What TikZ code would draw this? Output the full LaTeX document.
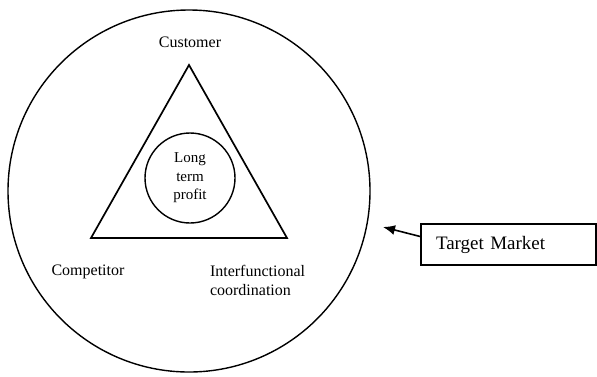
\documentclass[tikz,border=0pt]{standalone}
\usepackage{fontspec}
\setmainfont{Liberation Serif}
\usetikzlibrary{positioning,arrows.meta}

\begin{document}
\begin{tikzpicture}[x=1pt, y=-1pt, line width=1.4pt,
    label/.style={font=\fontsize{16}{19}\selectfont, align=left},
    boxed/.style={draw, line width=1.6pt, minimum width=175pt, minimum height=41pt,
      text width=145pt, inner xsep=15pt, align=left, font=\fontsize{19}{22}\selectfont}]
                \useasboundingbox (0,0) rectangle (597,376);

                % Outer circle (Target market)
                \draw (189,191) circle [radius=181pt];

                % Triangle
                \coordinate (apex) at (189,65);
                \coordinate (left) at (91,238);
                \coordinate (right) at (287,238);
                \draw[line width=1.7pt] (apex) -- (left) -- (right) -- cycle;

                % Inner circle
                \node[circle, draw, minimum size=90pt, inner sep=0pt, align=center,
                  font=\fontsize{15}{18.5}\selectfont] (profit) at (190,178) {Long\\term\\profit};

                % Corner labels
                \node[label] (customer) at (190,42) {Customer};
                \node[label] (competitor) at (88,272) {Competitor};
                \node[label, anchor=north west] (coord) at (206,261) {Interfunctional\\coordination};

                % Target market box and arrow
                \node[boxed] (market) at (508.5,244.5) {Target Market};
                \coordinate (tip) at (383,227);
                \draw[-{Latex[length=12pt,width=10pt]}, line width=1.6pt] ([yshift=8pt]market.west) -- (tip);
            \end{tikzpicture}
\end{document}
